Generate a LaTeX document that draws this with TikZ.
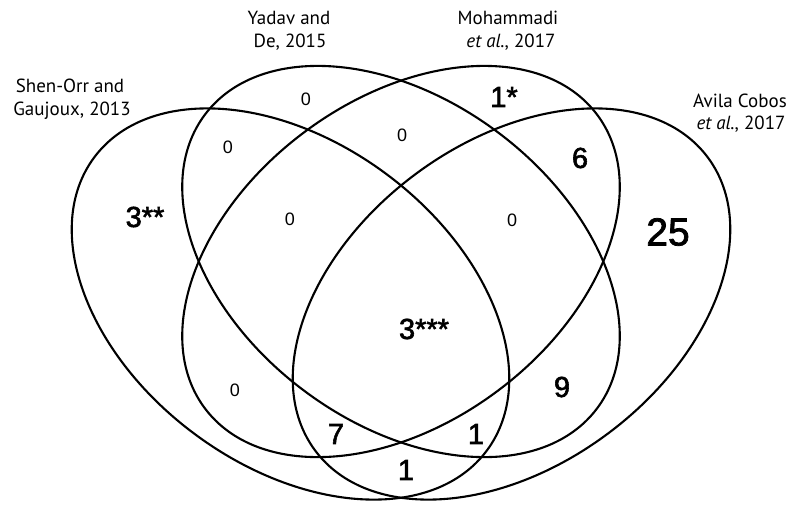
\documentclass[tikz,border=0pt]{standalone}
\usepackage{fontspec}
\setmainfont{PT Sans}
\newfontfamily\numfont{Liberation Sans}
\newfontfamily\nummed[FakeBold=2]{Liberation Sans}
\begin{document}
\begin{tikzpicture}[x=1pt,y=-1pt,
  venn/.style={line width=2.1pt, draw=black},
  lbl/.style={font=\fontsize{19}{23}\selectfont, anchor=base, inner sep=0pt},
  big/.style={font=\nummed\fontsize{29}{29}\selectfont, inner sep=0pt},
  huge/.style={font=\nummed\fontsize{39}{39}\selectfont, inner sep=0pt},
  zero/.style={font=\numfont\fontsize{18}{18}\selectfont, inner sep=0pt}]
\useasboundingbox (0,0) rectangle (792,504);
% ellipses
\draw[venn, rotate around={-36.8:(290.5,304)}] (290.5,304) ellipse [x radius=245pt, y radius=161.5pt];
\draw[venn, rotate around={-36.8:(401,261.5)}] (401,261.5) ellipse [x radius=245pt, y radius=161.5pt];
\draw[venn, rotate around={36.8:(401,261.5)}] (401,261.5) ellipse [x radius=245pt, y radius=161.5pt];
\draw[venn, rotate around={36.8:(511.5,304)}] (511.5,304) ellipse [x radius=245pt, y radius=161.5pt];
% set labels
\node[lbl] (la1) at (70,92) {Shen-Orr and};
\node[lbl] (la2) at (72,115) {Gaujoux, 2013};
\node[lbl] (lb1) at (289,24) {Yadav and};
\node[lbl] (lb2) at (290,47) {De, 2015};
\node[lbl] (lc1) at (508,24) {Mohammadi};
\node[lbl] (lc2) at (511,47) {\textit{et al.}, 2017};
\node[lbl] (ld1) at (740,107) {Avila Cobos};
\node[lbl] (ld2) at (741,129) {\textit{et al.}, 2017};
% counts
\node[zero] (n1) at (306,99) {0};
\node[big] (n2) at (504,97) {1*};
\node[zero] (n3) at (228,147) {0};
\node[zero] (n4) at (402,135) {0};
\node[big] (n5) at (580,158) {6};
\node[big] (n6) at (145,217) {3**};
\node[zero] (n7) at (290,219) {0};
\node[zero] (n8) at (512,220) {0};
\node[huge] (n9) at (668,232) {25};
\node[big] (n10) at (424,329) {3***};
\node[zero] (n11) at (235,390) {0};
\node[big] (n12) at (562,387) {9};
\node[big] (n13) at (336,434) {7};
\node[big] (n14) at (476,434) {1};
\node[big] (n15) at (406,470) {1};
\end{tikzpicture}
\end{document}
